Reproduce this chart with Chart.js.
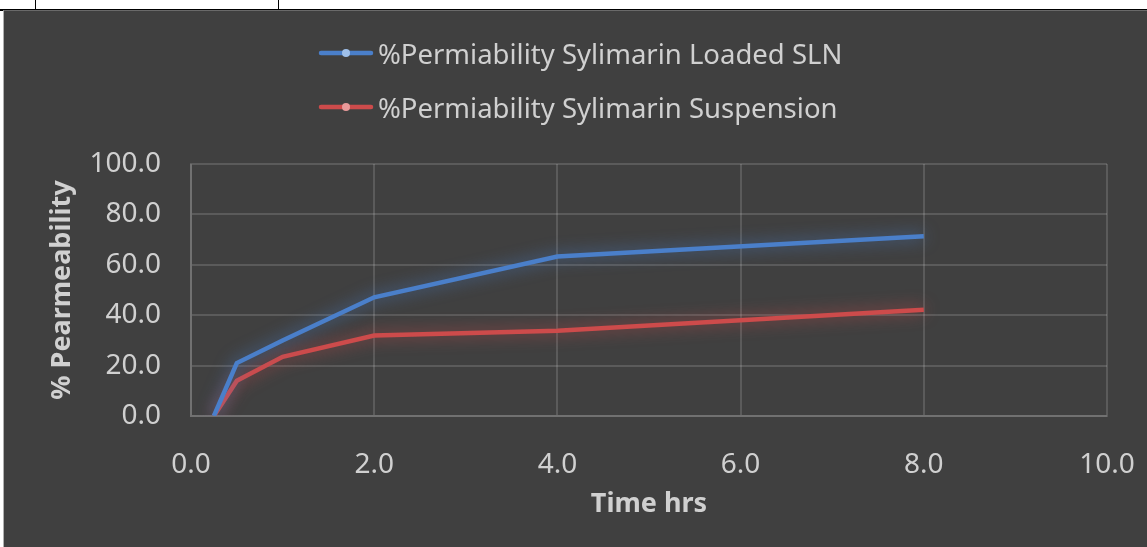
<!DOCTYPE html>
<html>
<head>
<meta charset="utf-8">
<script src="https://cdn.jsdelivr.net/npm/chart.js@4.4.0/dist/chart.umd.min.js"></script>
<style>
  html, body { margin: 0; padding: 0; background: #fff; width: 1147px; height: 547px; overflow: hidden; }
  .tline { position: absolute; background: #000; }
  #panel { position: absolute; left: 3px; top: 10px; width: 1144px; height: 537px; background: #404040;
           border-left: 1px solid #b0b0b0; border-top: 1px solid #6a6a6a; box-sizing: border-box; }
  #legend { position: absolute; left: 314px; top: 15px; font-family: "Noto Sans", sans-serif; font-size: 27.5px; color: #d0d0d0; }
  .item { height: 54px; display: flex; align-items: center; white-space: nowrap; }
  .item canvas { margin-right: 4px; }
</style>
</head>
<body>
<div class="tline" style="left:0;top:9px;width:1147px;height:2px"></div>
<div class="tline" style="left:35px;top:0;width:1px;height:10px"></div>
<div class="tline" style="left:278px;top:0;width:1px;height:10px"></div>
<div id="panel">
  <canvas id="permChart" width="1143" height="536"></canvas>
  <div id="legend"></div>
</div>
<script>
// данные с графика
var timeHrs = [0.25, 0.5, 1, 2, 4, 8];
var slnValues = [0, 21.0, 30.0, 47.1, 63.3, 71.3];
var suspValues = [0, 14.0, 23.5, 31.9, 33.8, 42.2];
var seriesNames = ['%Permiability Sylimarin Loaded SLN', '%Permiability Sylimarin Suspension'];
var seriesColors = ['#4a7fca', '#cd4b4b'];
var legendDots = ['#9fc0ea', '#e89a9a'];
var xTicks = [0, 2, 4, 6, 8, 10];
var yTicks = [0, 20, 40, 60, 80, 100];

var textColor = '#d0d0d0';
var gridColor = 'rgba(255,255,255,0.14)';

function toPoints(xs, ys) {
    return xs.map(function(x, i) { return { x: x, y: ys[i] }; });
}

// свечение вокруг линий
var glowPlugin = {
    id: 'glow',
    beforeDatasetDraw: function(chart, args) {
        var ctx = chart.ctx;
        ctx.save();
        ctx.shadowColor = args.index === 0 ? 'rgba(74,127,202,0.8)' : 'rgba(205,75,75,0.8)';
        ctx.shadowBlur = 16;
    },
    afterDatasetDraw: function(chart) {
        chart.ctx.restore();
    }
};

var ctx = document.getElementById('permChart').getContext('2d');
var permChart = new Chart(ctx, {
    type: 'line',
    data: {
        datasets: [{
            label: seriesNames[0],
            data: toPoints(timeHrs, slnValues),
            borderColor: seriesColors[0],
            borderWidth: 4.5,
            pointRadius: 0,
            tension: 0
        }, {
            label: seriesNames[1],
            data: toPoints(timeHrs, suspValues),
            borderColor: seriesColors[1],
            borderWidth: 4.5,
            pointRadius: 0,
            tension: 0
        }]
    },
    options: {
        responsive: false,
        animation: false,
        layout: { padding: { top: 153, right: 40, left: 38, bottom: 22 } },
        plugins: {
            legend: { display: false },
            tooltip: { enabled: false }
        },
        scales: {
            x: {
                type: 'linear',
                min: 0, max: 10,
                afterBuildTicks: function(axis) { axis.ticks = xTicks.map(function(v) { return { value: v }; }); },
                afterFit: function(axis) {
                    axis.height = 109;
                    axis.paddingLeft = 0;
                    axis.paddingRight = 0;
                },
                grid: { color: gridColor, lineWidth: 2, drawTicks: false },
                border: { color: gridColor, width: 2 },
                ticks: {
                    color: textColor, padding: 32,
                    font: { family: 'Noto Sans', size: 28 },
                    callback: function(v) { return v.toFixed(1); }
                },
                title: {
                    display: true, text: 'Time hrs', color: textColor,
                    font: { family: 'Noto Sans', size: 27, weight: 'bold' },
                    padding: { top: 4 }
                }
            },
            y: {
                min: 0, max: 100,
                afterBuildTicks: function(axis) { axis.ticks = yTicks.map(function(v) { return { value: v }; }); },
                afterFit: function(axis) {
                    axis.width = 149;
                    axis.paddingTop = 0;
                    axis.paddingBottom = 0;
                },
                grid: { color: gridColor, lineWidth: 2, drawTicks: false },
                border: { color: gridColor, width: 2 },
                ticks: {
                    color: textColor, padding: 30,
                    font: { family: 'Noto Sans', size: 28 },
                    callback: function(v) { return v.toFixed(1); }
                },
                title: {
                    display: true, text: '% Pearmeability', color: textColor,
                    font: { family: 'Noto Sans', size: 27, weight: 'bold' },
                    padding: { bottom: 4 }
                }
            }
        }
    },
    plugins: [glowPlugin]
});

// легенда
var legendBox = document.getElementById('legend');
seriesNames.forEach(function(name, i) {
    var row = document.createElement('div');
    row.className = 'item';
    var c = document.createElement('canvas');
    c.width = 56; c.height = 12;
    var g = c.getContext('2d');
    g.strokeStyle = seriesColors[i];
    g.lineWidth = 4.5;
    g.lineCap = 'round';
    g.beginPath(); g.moveTo(3, 6); g.lineTo(53, 6); g.stroke();
    g.fillStyle = legendDots[i];
    g.beginPath(); g.arc(28, 6, 4, 0, Math.PI * 2); g.fill();
    row.appendChild(c);
    var span = document.createElement('span');
    span.textContent = name;
    row.appendChild(span);
    legendBox.appendChild(row);
});
</script>
</body>
</html>
